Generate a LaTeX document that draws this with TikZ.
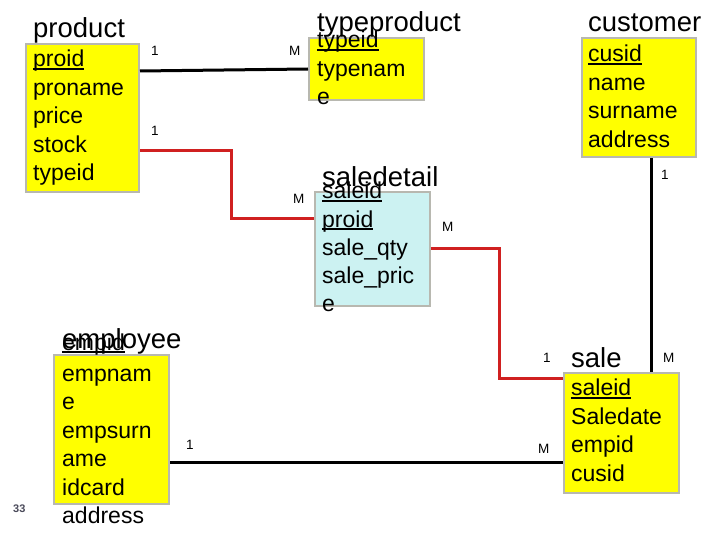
\documentclass[tikz,border=0pt]{standalone}
\usepackage{fontspec}
\setmainfont{Liberation Sans}
\definecolor{boxyellow}{RGB}{255,255,0}
\definecolor{boxcyan}{RGB}{204,242,242}
\definecolor{boxedge}{RGB}{184,184,176}
\definecolor{relred}{RGB}{208,32,32}
\definecolor{pagegray}{RGB}{74,74,90}
\newcommand{\keyu}[1]{\leavevmode\setbox0=\hbox{#1}\dp0=0pt\vtop{\box0\kern1.2pt\hrule height 2pt}}
\begin{document}
\begin{tikzpicture}[x=1pt,y=-1pt,
  entity/.style={draw=boxedge, line width=2pt, fill=boxyellow, inner sep=0pt, anchor=north west},
  weak/.style={entity, fill=boxcyan},
  attr/.style={inner sep=0pt, anchor=base west, font=\fontsize{23}{28}\selectfont},
  title/.style={inner sep=0pt, anchor=base west, font=\fontsize{27.5}{32}\selectfont},
  card/.style={inner sep=0pt, anchor=base west, font=\fontsize{13.5}{16}\selectfont},
  rel/.style={line width=3pt, black},
  relr/.style={line width=3pt, relred}]
\fill[white] (0,0) rectangle (720,540);
\useasboundingbox (0,0) rectangle (720,540);

% entity boxes
\node[entity, minimum width=113pt, minimum height=148pt] (product) at (25,43) {};
\node[entity, minimum width=115pt, minimum height=62pt] (typeproduct) at (308,37) {};
\node[entity, minimum width=114pt, minimum height=119pt] (customer) at (581,37) {};
\node[weak, minimum width=115pt, minimum height=114pt] (saledetail) at (314,191) {};
\node[entity, minimum width=115pt, minimum height=149pt] (employee) at (53,354) {};
\node[entity, minimum width=115pt, minimum height=120pt] (sale) at (563,372) {};

% connectors
\draw[rel] ([yshift=47pt]product.east) -- (typeproduct.west);
\draw[relr] ([yshift=-33pt]product.east) -- ++(91,0) |- ([yshift=30pt]saledetail.west);
\draw[relr] ([yshift=1pt]saledetail.east) -- ++(68,0) |- ([yshift=55pt]sale.west);
\coordinate (cusdrop) at ([xshift=12pt]customer.south);
\draw[rel] (cusdrop) -- (cusdrop |- sale.north);
\draw[rel] ([yshift=-32.5pt]employee.east) -- ([yshift=-29pt]sale.west);

% titles
\node[title] (t-product) at (33,38) {product};
\node[title] (t-typeproduct) at (317,32) {typeproduct};
\node[title] (t-customer) at (588,32) {customer};
\node[title] (t-saledetail) at (322,187) {saledetail};
\node[title] (t-employee) at (62,348) {employee};
\node[title] (t-sale) at (571,367) {sale};

% product attributes
\node[attr] (p1) at (33,67) {\keyu{proid}};
\node[attr] (p2) at (33,95.5) {proname};
\node[attr] (p3) at (33,124) {price};
\node[attr] (p4) at (33,152.5) {stock};
\node[attr] (p5) at (33,181) {typeid};

% typeproduct attributes
\node[attr] (tp1) at (317,48) {\keyu{typeid}};
\node[attr] (tp2) at (317,76.5) {typenam};
\node[attr] (tp3) at (317,105) {e};

% customer attributes
\node[attr] (c1) at (588,62) {\keyu{cusid}};
\node[attr] (c2) at (588,90.5) {name};
\node[attr] (c3) at (588,119) {surname};
\node[attr] (c4) at (588,147.5) {address};

% saledetail attributes
\node[attr] (sd1) at (322,199) {\keyu{saleid}};
\node[attr] (sd2) at (322,227) {\keyu{proid}};
\node[attr] (sd3) at (322,255) {sale\_qty};
\node[attr] (sd4) at (322,283) {sale\_pric};
\node[attr] (sd5) at (322,311) {e};

% employee attributes
\node[attr] (e1) at (62,350) {\keyu{empid}};
\node[attr] (e2) at (62,381) {empnam};
\node[attr] (e3) at (62,409.5) {e};
\node[attr] (e4) at (62,438) {empsurn};
\node[attr] (e5) at (62,466.5) {ame};
\node[attr] (e6) at (62,495) {idcard};
\node[attr] (e7) at (62,523.5) {address};

% sale attributes
\node[attr] (s1) at (571,395.5) {\keyu{saleid}};
\node[attr] (s2) at (571,424) {Saledate};
\node[attr] (s3) at (571,452.5) {empid};
\node[attr] (s4) at (571,481) {cusid};

% cardinalities
\node[card] (k1) at (151,56) {1};
\node[card] (k2) at (151,136) {1};
\node[card] (k3) at (289,56) {M};
\node[card] (k4) at (293,204) {M};
\node[card] (k5) at (442,232) {M};
\node[card] (k6) at (661,180) {1};
\node[card] (k7) at (543,362) {1};
\node[card] (k8) at (663,362) {M};
\node[card] (k9) at (538,453) {M};
\node[card] (k10) at (186,449) {1};

% slide number
\node[inner sep=0pt, anchor=base west, font=\fontsize{11}{13}\selectfont\bfseries, text=pagegray] (pagenum) at (13,512) {33};
\end{tikzpicture}
\end{document}
